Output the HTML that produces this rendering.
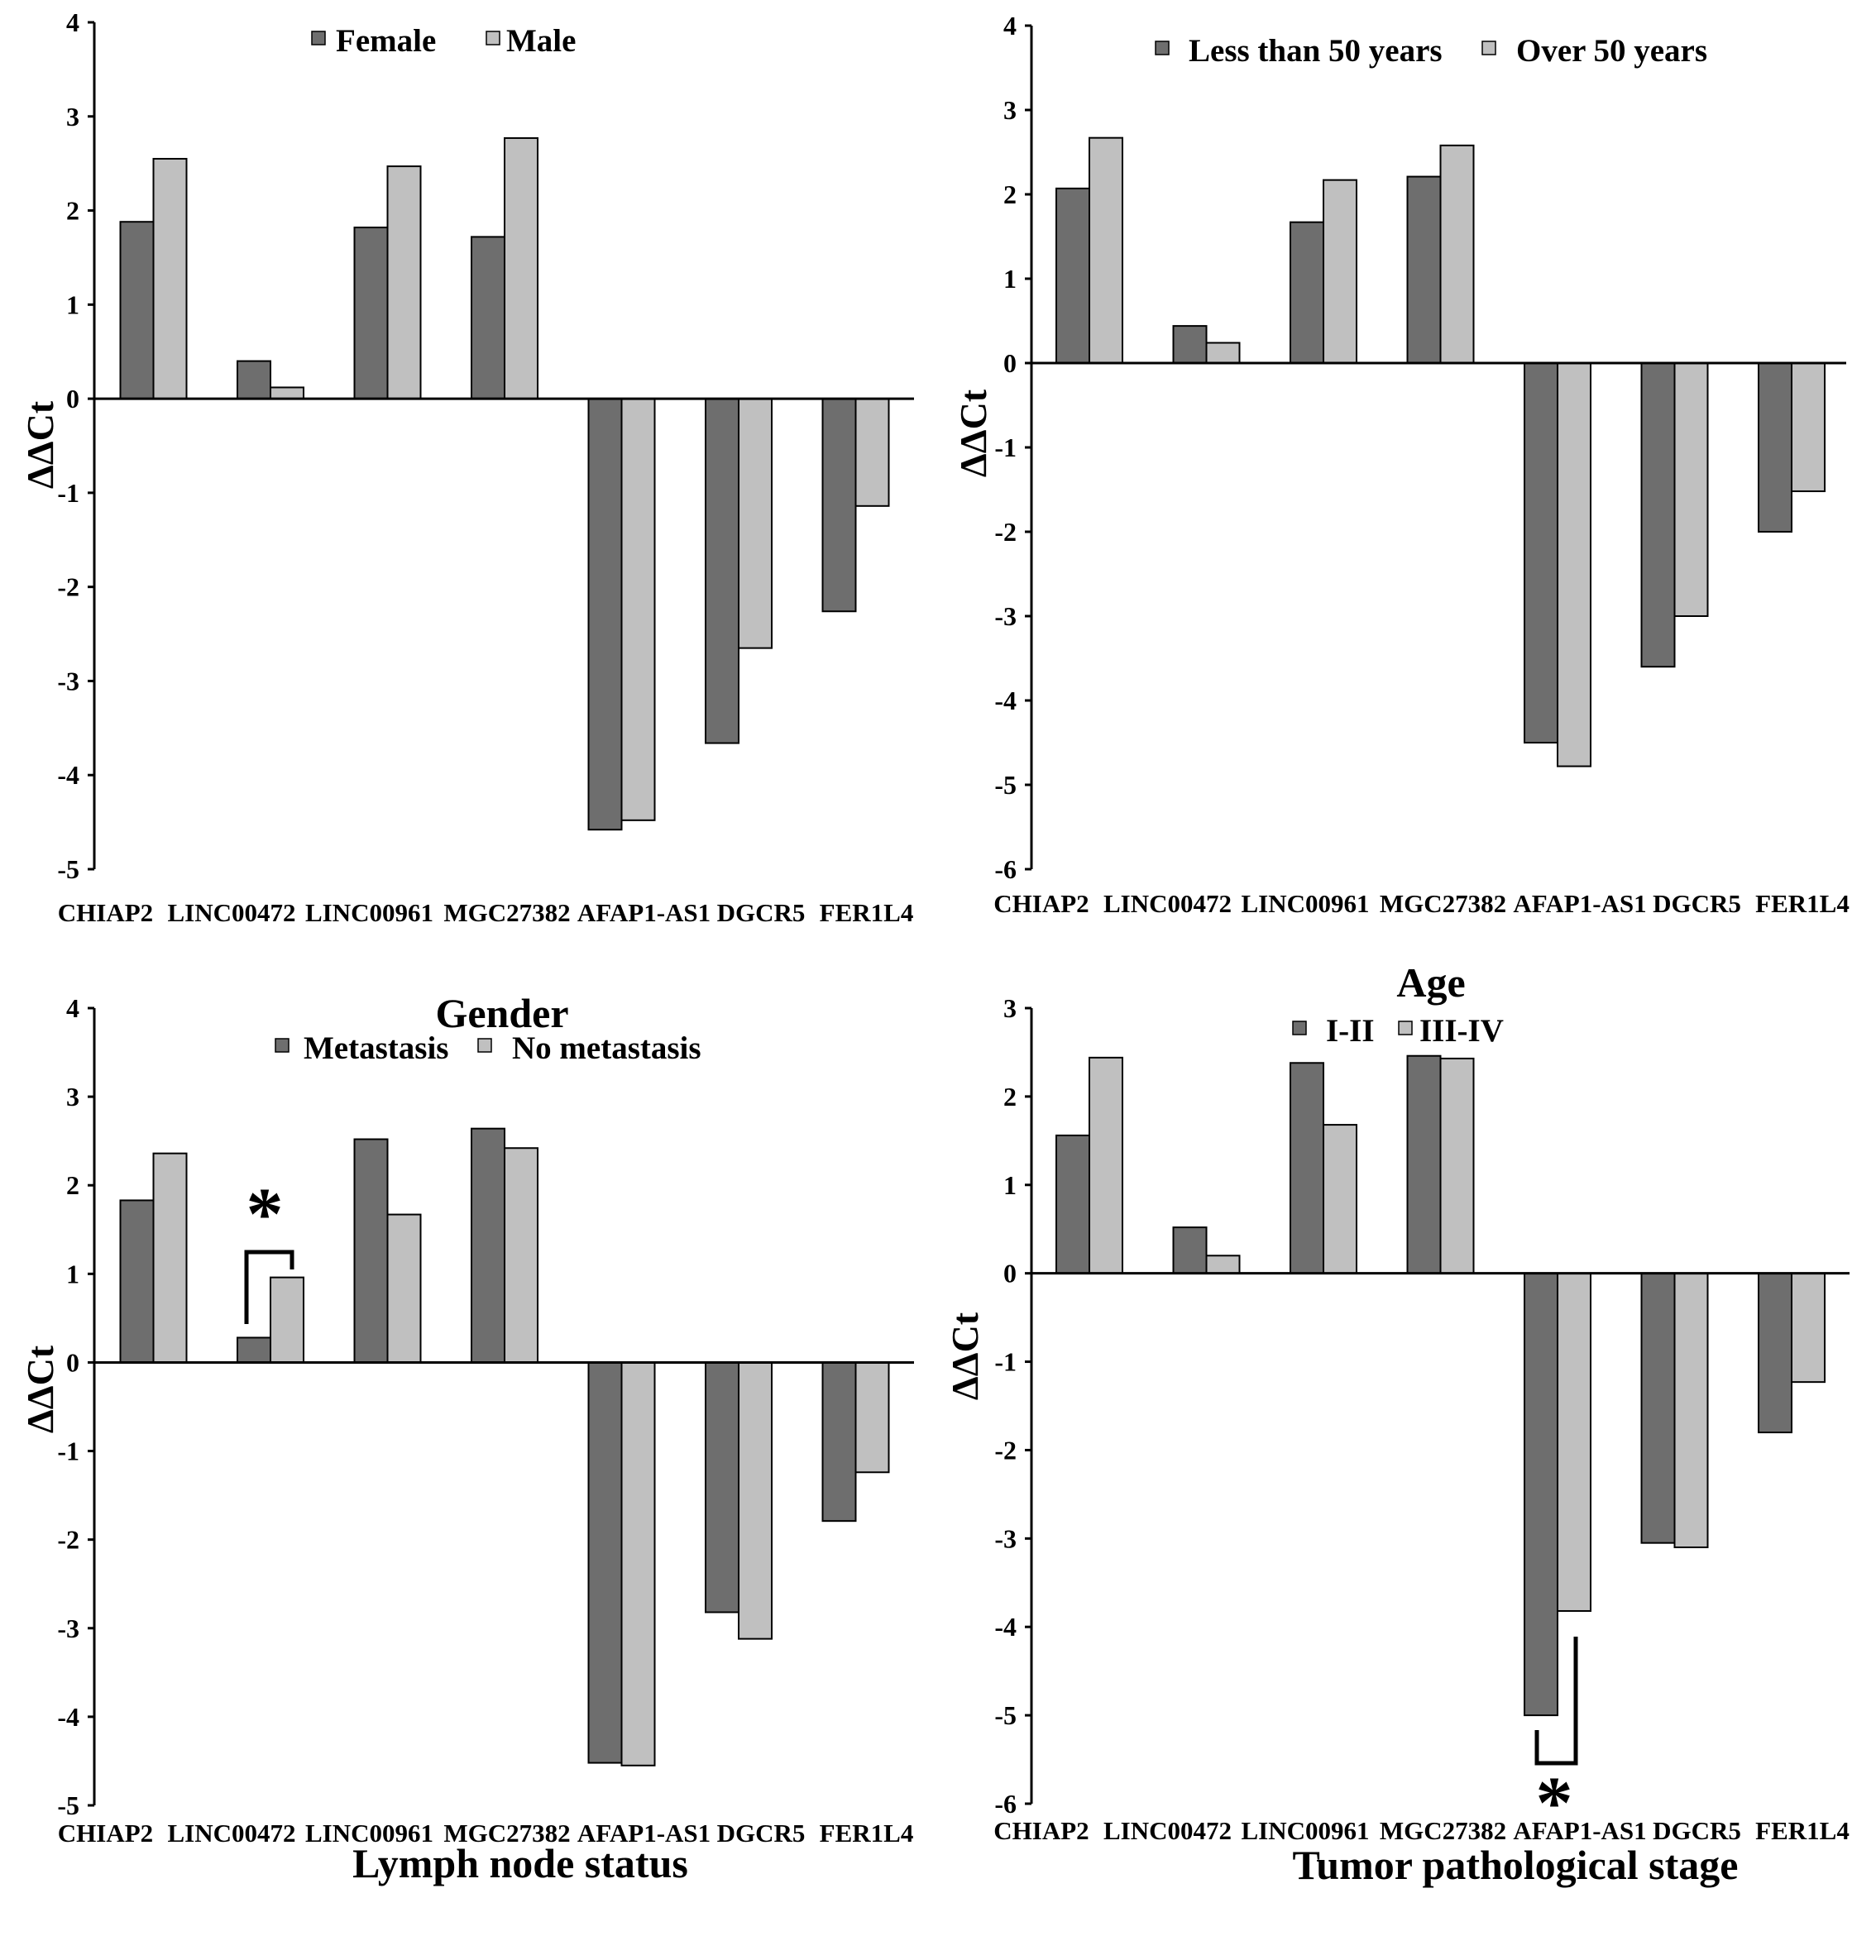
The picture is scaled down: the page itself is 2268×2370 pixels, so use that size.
<!DOCTYPE html>
<html><head><meta charset="utf-8">
<style>
html,body{margin:0;padding:0;background:#fff;}
svg{display:block;font-family:"Liberation Serif",serif;font-weight:bold;}
</style></head>
<body>
<svg id="chart" width="2268" height="2370" viewBox="0 0 2268 2370" xmlns="http://www.w3.org/2000/svg"></svg>
<script>
const categories = ["CHIAP2","LINC00472","LINC00961","MGC27382","AFAP1-AS1","DGCR5","FER1L4"];
const genderFemale = [1.88, 0.40, 1.82, 1.72, -4.58, -3.66, -2.26];
const genderMale   = [2.55, 0.12, 2.47, 2.77, -4.48, -2.65, -1.14];
const ageUnder50 = [2.07, 0.44, 1.67, 2.21, -4.50, -3.60, -2.00];
const ageOver50  = [2.67, 0.24, 2.17, 2.58, -4.78, -3.00, -1.52];
const lymphMet   = [1.83, 0.28, 2.52, 2.64, -4.52, -2.82, -1.79];
const lymphNoMet = [2.36, 0.96, 1.67, 2.42, -4.55, -3.12, -1.24];
const stageEarly = [1.56, 0.52, 2.38, 2.46, -5.00, -3.05, -1.80];
const stageLate  = [2.44, 0.20, 1.68, 2.43, -3.82, -3.10, -1.23];
const ticksA = [4,3,2,1,0,-1,-2,-3,-4,-5];
const ticksB = [4,3,2,1,0,-1,-2,-3,-4,-5,-6];
const ticksC = [3,2,1,0,-1,-2,-3,-4,-5,-6];

const NS = "http://www.w3.org/2000/svg";
const svg = document.getElementById('chart');
const labelDx = [-58,-47,-22,3,27,27,13];
function el(tag, attrs, parent, text){
  const e = document.createElementNS(NS, tag);
  for (const k in attrs) e.setAttribute(k, attrs[k]);
  if (text !== undefined) e.textContent = text;
  (parent||svg).appendChild(e);
  return e;
}
function panel(p){
  const g = el('g', {});
  
  
  const ymax = p.ticks[0], ymin = p.ticks[p.ticks.length-1];
  const yScale = v => p.yTop + (ymax - v) * (p.yBot - p.yTop) / (ymax - ymin);
  const xCenter = i => p.x0 + i * 141.5;
  const y0 = yScale(0);
  const ax = el('line', {x1:p.axX, y1:yScale(ymax), x2:p.axX, y2:yScale(ymin), stroke:'#000','stroke-width':3}, g);
  
  
  p.ticks.forEach(t => {
    const y = yScale(t);
    const tk = el('line', {x1:p.axX-8, y1:y, x2:p.axX, y2:y, stroke:'#000','stroke-width':3}, g);
    
    
    const tl = el('text', {x:p.axX-18, y:y+11, 'text-anchor':'end','font-size':32}, g, String(t));
    
    
  });
  categories.forEach((c, i) => {
    const cx = xCenter(i);
    [[p.s1, '#6e6e6e', -40], [p.s2, '#c0c0c0', 0]].forEach(([arr, col, off], si) => {
      const v = arr[i];
      const ya = yScale(v);
      const r = el('rect', {x:cx+off, y:Math.min(ya,y0), width:40, height:Math.abs(ya-y0), fill:col, stroke:'#000','stroke-width':2}, g);
      
      
    });
    const lb = el('text', {x:cx+labelDx[i], y:p.labelY, 'text-anchor':'middle','font-size':31}, g, c);
    
    
  });
  const zx = el('line', {x1:p.axX, y1:y0, x2:p.axRight, y2:y0, stroke:'#000','stroke-width':3}, g);
  
  
  const yt = el('text', {x:0, y:0, 'text-anchor':'middle','font-size':46, transform:`translate(${p.ytX},${p.ytY}) rotate(-90)`}, g, 'ΔΔCt');
  
  
  [[p.leg[0], '#6e6e6e', p.legX[0], p.legX[1]], [p.leg[1], '#c0c0c0', p.legX[2], p.legX[3]]].forEach(([txt, col, sx, tx]) => {
    const sq = el('rect', {x:sx, y:p.legY-24, width:16, height:16, fill:col, stroke:'#000','stroke-width':1.5}, g);
    
    
    const lt = el('text', {x:tx, y:p.legY, 'font-size':39}, g, txt);
    
    
  });
  return g;
}
panel({name:'panel-gender', s1:genderFemale, s2:genderMale, ticks:ticksA, yTop:27, yBot:1051, axX:114, axRight:1105, x0:185.5, labelY:1114, ytX:64, ytY:538, leg:['Female','Male'], legX:[377,406,588,612], legY:62});
panel({name:'panel-age', s1:ageUnder50, s2:ageOver50, ticks:ticksB, yTop:31, yBot:1051, axX:1247, axRight:2232, x0:1317, labelY:1103, ytX:1192, ytY:524, leg:['Less than 50 years','Over 50 years'], legX:[1397,1437,1792,1833], legY:74});
panel({name:'panel-lymph-node', s1:lymphMet, s2:lymphNoMet, ticks:ticksA, yTop:1219, yBot:2183, axX:114, axRight:1105, x0:185.5, labelY:2227, ytX:64, ytY:1680, leg:['Metastasis','No metastasis'], legX:[333,367,578,619], legY:1280});
panel({name:'panel-stage', s1:stageEarly, s2:stageLate, ticks:ticksC, yTop:1219, yBot:2181, axX:1247, axRight:2236, x0:1317, labelY:2224, ytX:1182, ytY:1640, leg:['I-II','III-IV'], legX:[1563,1603,1691,1716], legY:1259});

function txt(x,y,size,s,name){
  const t = el('text', {x:x, y:y, 'text-anchor':'middle','font-size':size}, svg, s);
  
  
}
txt(607, 1242, 50, 'Gender', 'gender-title');
txt(1730, 1205, 50, 'Age', 'age-title');
txt(629, 2270, 50, 'Lymph node status', 'lymph-node-title');
txt(1832, 2272, 50, 'Tumor pathological stage', 'stage-title');

function bracket(d, name){
  const p = el('path', {d:d, fill:'none', stroke:'#000','stroke-width':5});
  
  
}
bracket('M298 1601 L298 1514 L353 1514 L353 1535', 'significance-bracket-lymph');
txt(320, 1498, 90, '*', 'significance-star-lymph');
bracket('M1858 2092 L1858 2132 L1905 2132 L1905 1979', 'significance-bracket-stage');
txt(1879, 2210, 90, '*', 'significance-star-stage');
</script>
</body></html>
